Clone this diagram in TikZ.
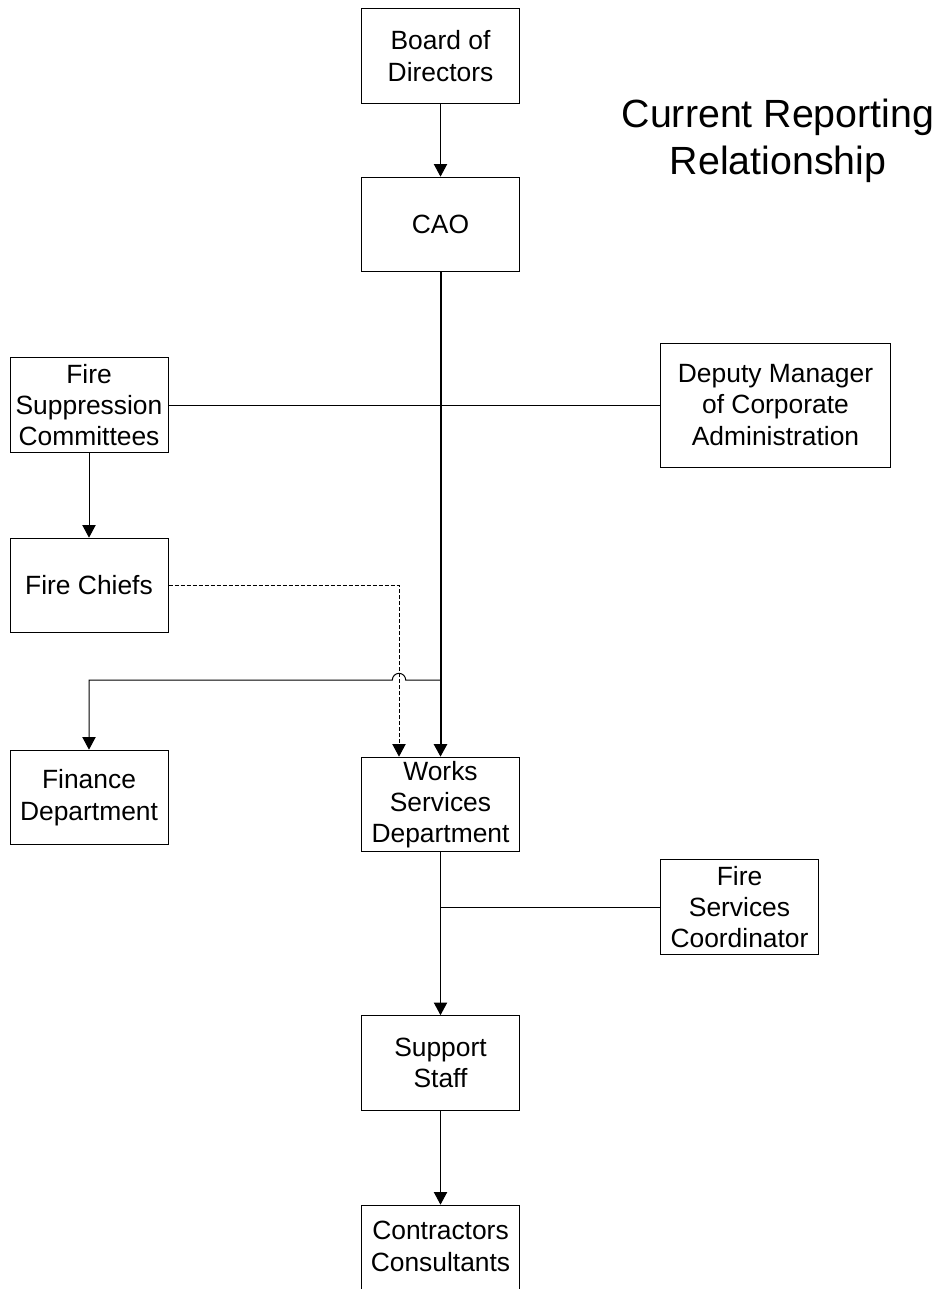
\documentclass[tikz,border=0pt]{standalone}
\usepackage{fontspec}
\setmainfont{Liberation Sans}
\usetikzlibrary{arrows.meta}

\begin{document}
\begin{tikzpicture}[x=0.75pt,y=0.75pt,
            box/.style={draw,line width=0.75pt,minimum width=118.5pt,minimum height=71pt,inner sep=0pt,align=center,font=\fontsize{19.8}{23.5}\selectfont},
            link/.style={line width=0.75pt,-{Triangle[length=9.5pt,width=10pt]}}]
            \clip (0,0) rectangle (943,-1289);
            \node[align=center,font=\fontsize{29.5}{35}\selectfont] (title) at (778,-141) {Current Reporting\\Relationship};
            \node[box] (board) at (440.5,-56) {Board of\\Directors};
            \node[box] (cao) at (440.5,-224.5) {CAO};
            \node[box] (fsc) at (89,-405) {Fire\\Suppression\\Committees};
            \node[box,minimum width=172pt,minimum height=93pt] (deputy) at (775.5,-405) {Deputy Manager\\of Corporate\\Administration};
            \node[box] (chiefs) at (89,-585.5) {Fire Chiefs};
            \node[box] (finance) at (89,-797.5) {Finance\\Department};
            \node[box] (works) at (440.5,-804.5) {Works\\Services\\Department};
            \node[box] (coord) at (739.5,-907) {Fire\\Services\\Coordinator};
            \node[box] (support) at (440.5,-1063) {Support\\Staff};
            \node[box] (contractors) at (440.5,-1252.5) {Contractors\\Consultants\\[-14pt]};
            \draw[link] (board) -- (cao);
            \draw[link,line width=1.5pt] (cao) -- (works);
            \draw[line width=0.75pt] (fsc) -- (deputy);
            \draw[link] (fsc) -- (chiefs);
            \coordinate (dash) at (399,-585.5);
            \draw[link,dash pattern=on 3pt off 1.5pt] (chiefs) -- (dash) -- (dash |- works.north);
            \coordinate (fin) at (440.5,-680);
            \coordinate (hop) at (dash |- fin);
            \draw[link] (fin) -- ([xshift=5pt]hop) arc[start angle=0,end angle=180,radius=5pt] -- (finance.north |- fin) -- (finance);
            \coordinate (crd) at (works.south |- coord.west);
            \draw[line width=0.75pt] (crd) -- (coord);
            \draw[link] (works) -- (support);
            \draw[link] (support) -- (contractors);
        \end{tikzpicture}
\end{document}
